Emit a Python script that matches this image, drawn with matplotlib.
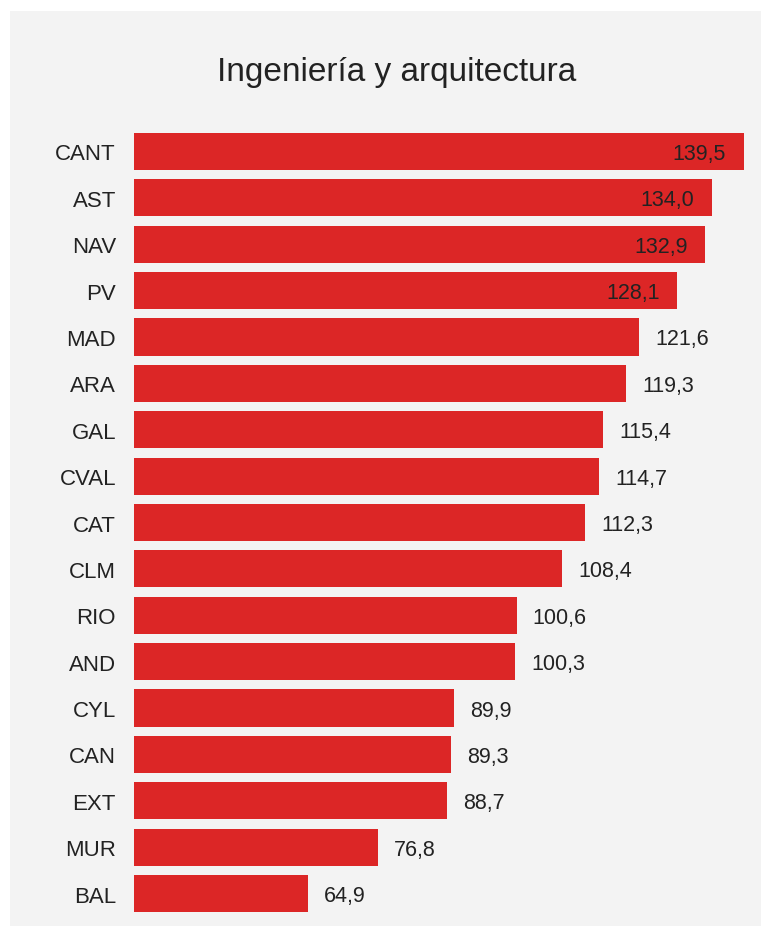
import matplotlib.pyplot as plt
from matplotlib.patches import Rectangle
import numpy as np

plt.rcParams["font.family"] = ["Liberation Sans", "DejaVu Sans"]

# comunidades y valores (de arriba a abajo)
regions = ["CANT", "AST", "NAV", "PV", "MAD", "ARA", "GAL", "CVAL", "CAT",
           "CLM", "RIO", "AND", "CYL", "CAN", "EXT", "MUR", "BAL"]
values = [139.5, 134.0, 132.9, 128.1, 121.6, 119.3, 115.4, 114.7, 112.3,
          108.4, 100.6, 100.3, 89.9, 89.3, 88.7, 76.8, 64.9]
title = "Ingeniería y arquitectura"

W, H = 761, 929
fig = plt.figure(figsize=(W / 100, H / 100), dpi=100)
fig.patch.set_facecolor("white")

# panel gris de fondo
fig.patches.append(Rectangle((10 / W, 1 - 927 / H), 751 / W, 915 / H,
                             transform=fig.transFigure, facecolor="#f3f3f3",
                             edgecolor="none", zorder=-10))

ax = fig.add_axes([134 / W, 1 - 917.7 / H, 610 / W, (917.7 - 129.3) / H])
ax.set_facecolor("none")
ax.set_zorder(1)

y = np.arange(len(regions))
ax.barh(y, values, height=0.8, color="#dc2626", zorder=2)
ax.set_xlim(35.1, 139.5)
ax.set_ylim(len(regions) - 0.5, -0.5)

ax.set_yticks(y)
ax.set_yticklabels(regions, fontsize=16, color="#222222")
ax.tick_params(axis="y", length=0, pad=13)
ax.set_xticks([])
for s in ax.spines.values():
    s.set_visible(False)

for yi, v in zip(y, values):
    label = f"{v:.1f}".replace(".", ",")
    if v > 125:
        ax.annotate(label, (v, yi), xytext=(-18, -2), textcoords="offset pixels",
                    ha="right", va="center", fontsize=15.5, color="#222222")
    else:
        ax.annotate(label, (v, yi), xytext=(16, -2), textcoords="offset pixels",
                    ha="left", va="center", fontsize=15.5, color="#222222")

fig.text(397 / W, 1 - 72 / H, title, ha="center", va="center",
         fontsize=24, color="#222222")

fig.savefig("out.png", dpi=100)
